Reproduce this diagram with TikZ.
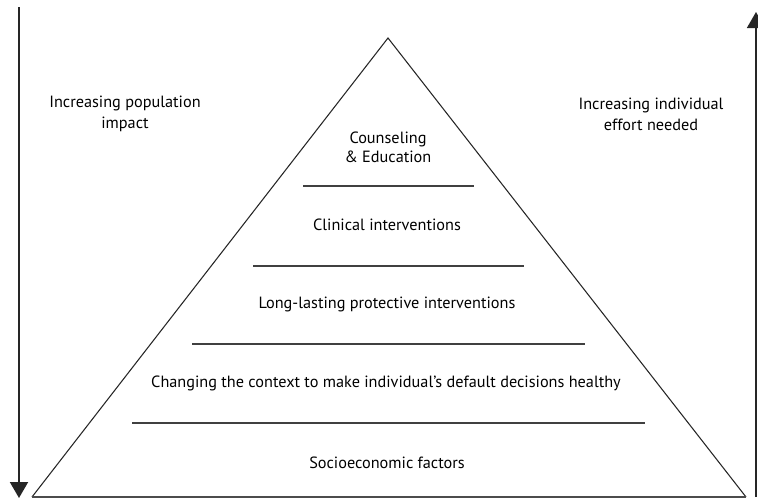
\documentclass[tikz,border=0pt]{standalone}
\usepackage{fontspec}
\setmainfont{PT Sans}
\usetikzlibrary{positioning, arrows.meta}
\tikzset{
  layer/.style    = {align=center, inner sep=0pt, font=\fontsize{12.2}{14.3}\selectfont},
  sidenote/.style = {align=center, inner sep=0pt, font=\fontsize{12.2}{15.8}\selectfont},
  arrow/.style    = {-{Triangle[width=13.5pt, length=12pt]}, line width=1.5pt, draw=black!85}
}

\begin{document}
\begin{tikzpicture}[
  x=0.75pt, y=-0.75pt,
  sep/.style={line width=1.1pt, draw=black!75}
]
  \useasboundingbox (0,0) rectangle (758,500);

  % pyramid
  \coordinate (apex) at (388,38);
  \coordinate (bl)   at (32,497);
  \coordinate (br)   at (746,497);
  \draw[line width=0.8pt, draw=black!85] (bl) -- (apex) -- (br);
  \draw[line width=1.4pt, draw=black!70] (bl) -- (br);

  % separators between the layers
  \foreach \y/\a/\b in {186/303/474, 266/253/524, 344/192/585, 423/132/645}
    \draw[sep] (\a,\y) -- (\b,\y);

  % layers
  \node[layer] (counsel)  at (388,147) {Counseling\\\& Education};
  \node[layer] (clinical) at (387,225) {Clinical interventions};
  \node[layer] (lasting)  at (387,304) {Long-lasting protective interventions};
  \node[layer] (context)  at (386,383) {Changing the context to make individual’s default decisions healthy};
  \node[layer] (socio)    at (387,463) {Socioeconomic factors};

  % side arrows
  \node[sidenote] (popimpact) at (125,114) {Increasing population\\impact};
  \node[sidenote] (effort)    at (651,114) {Increasing individual\\effort needed};
  \coordinate (poptop) at (19,7);
  \coordinate (popend) at (19,498);
  \coordinate (effbot) at (756,497);
  \coordinate (efftop) at (756,12);
  \draw[arrow] (poptop) -- (popend);
  \draw[arrow, line width=1.2pt] (effbot) -- (efftop);
\end{tikzpicture}
\end{document}
